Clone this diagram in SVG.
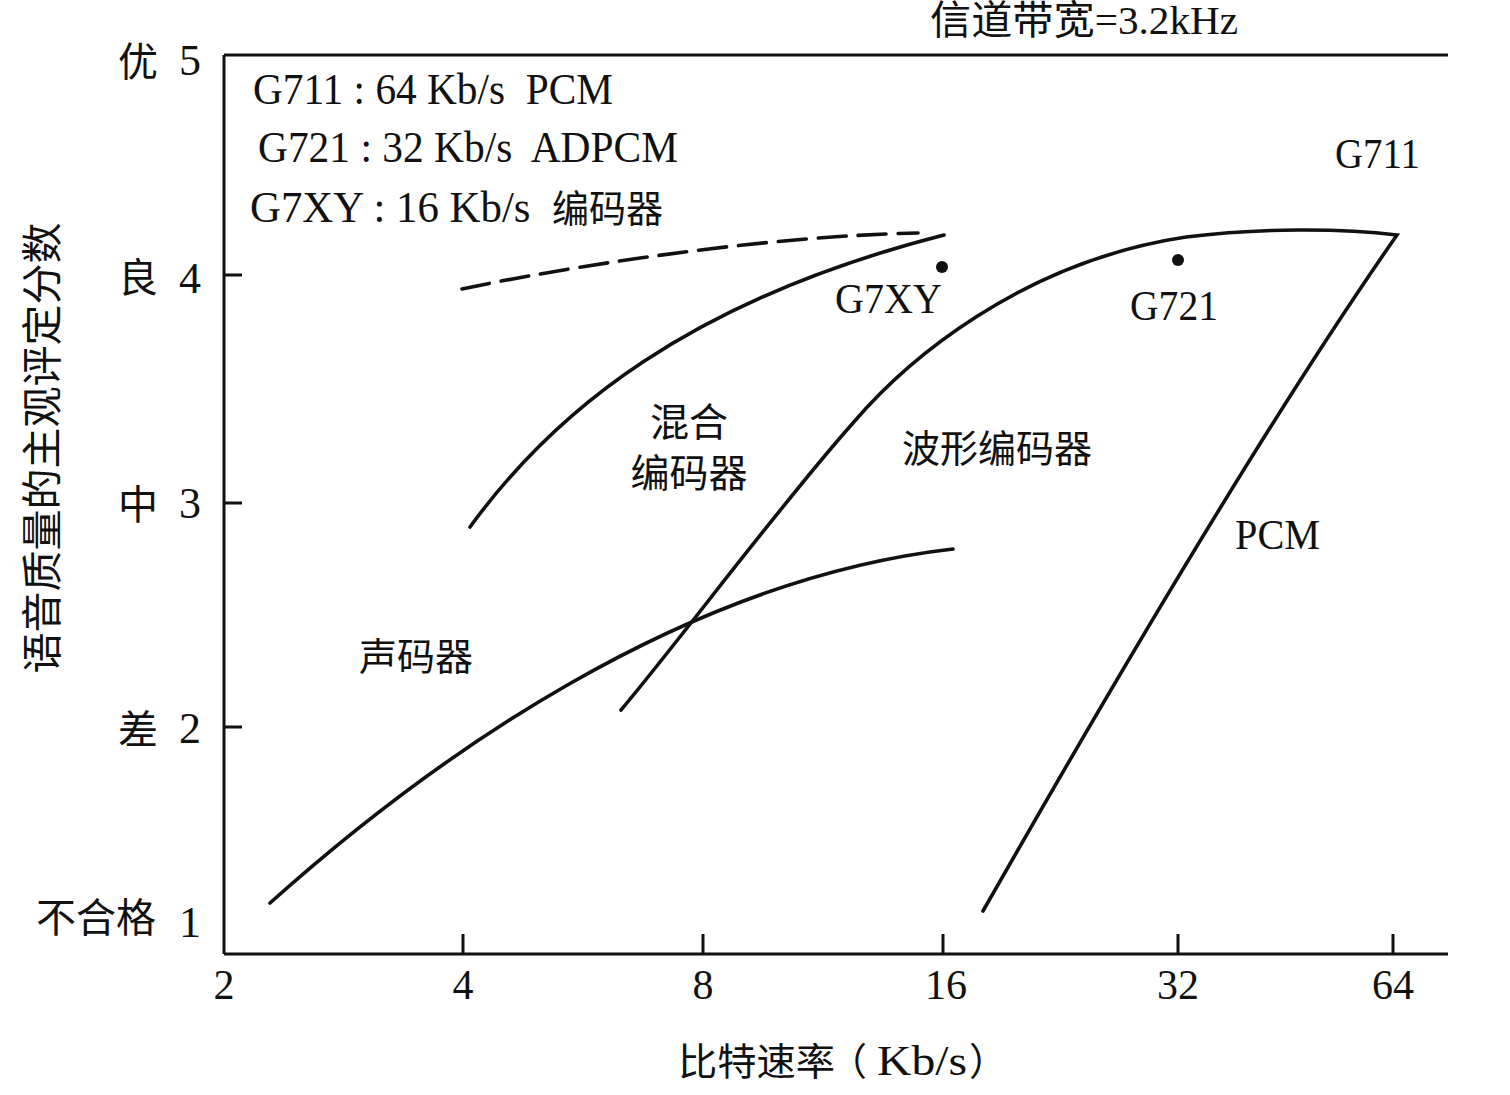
<svg xmlns="http://www.w3.org/2000/svg" width="1510" height="1095" viewBox="0 0 1510 1095">
<style>
.t{font-family:"Liberation Serif","Noto Sans CJK SC",serif;fill:#111;white-space:pre}
.c{font-family:"Noto Sans CJK SC","Liberation Serif",sans-serif;fill:#111}
.ax{stroke:#111;stroke-width:3;fill:none}
.cv{stroke:#111;stroke-width:3.6;fill:none;stroke-linecap:round}
</style>
<rect width="1510" height="1095" fill="#fff"/>
<g id="axes">
<path class="ax" d="M224,55 V954 M224,55 H1448"/>
<path class="ax" stroke-width="4" d="M224,954 H1448"/>
<path class="ax" d="M224,275 H242 M224,503 H242 M224,727 H242 M463,934 V954 M703,934 V954 M943,934 V954 M1178,934 V954 M1393,934 V954"/>
</g>
<g id="title-top"><text class="t" x="930" y="34" font-size="40" textLength="308" lengthAdjust="spacingAndGlyphs">信道带宽=3.2kHz</text></g>
<g id="y-labels" font-size="40">
<text class="c" x="138" y="76" text-anchor="middle">优</text><text class="t" x="190" y="75" font-size="44" text-anchor="middle">5</text>
<text class="c" x="138" y="292" text-anchor="middle">良</text><text class="t" x="190" y="293" font-size="44" text-anchor="middle">4</text>
<text class="c" x="138" y="519" text-anchor="middle">中</text><text class="t" x="190" y="518" font-size="44" text-anchor="middle">3</text>
<text class="c" x="138" y="744" text-anchor="middle">差</text><text class="t" x="190" y="743" font-size="44" text-anchor="middle">2</text>
<text class="c" x="96" y="932" text-anchor="middle">不合格</text><text class="t" x="190" y="937" font-size="44" text-anchor="middle">1</text>
</g>
<g id="y-title"><text class="c" transform="translate(57,448) rotate(-90)" font-size="41" text-anchor="middle">语音质量的主观评定分数</text></g>
<g id="x-labels" font-size="42" text-anchor="middle">
<text class="t" x="224" y="999">2</text><text class="t" x="463" y="999">4</text><text class="t" x="703" y="999">8</text><text class="t" x="946" y="999">16</text><text class="t" x="1178" y="999">32</text><text class="t" x="1393" y="999">64</text>
</g>
<g id="x-title" font-size="38">
<text class="c" x="678" y="1075" textLength="157" lengthAdjust="spacingAndGlyphs">比特速率</text>
<text class="c" x="829" y="1075">（</text>
<text class="t" x="877" y="1075" font-size="42" textLength="90" lengthAdjust="spacingAndGlyphs">Kb/s</text>
<text class="c" x="969" y="1075">）</text>
</g>
<g id="legend" font-size="44">
<text class="t" x="253" y="104" textLength="360" lengthAdjust="spacingAndGlyphs">G711 : 64 Kb/s  PCM</text>
<text class="t" x="258" y="162" textLength="420" lengthAdjust="spacingAndGlyphs">G721 : 32 Kb/s  ADPCM</text>
<text class="t" x="250" y="222" textLength="413" lengthAdjust="spacingAndGlyphs">G7XY : 16 Kb/s  <tspan class="c" font-size="38">编码器</tspan></text>
</g>
<g id="curves">
<path class="cv" stroke-dasharray="28 12" stroke-linecap="butt" d="M462,289 C560,268 760,236 918,233"/>
<path class="cv" d="M470,527 C555,410 690,300 944,235"/>
<path class="cv" d="M621,710 C680,640 780,505 853,423 C905,362 1020,262 1186,237 C1260,228 1340,228 1397,235 Q1240,460 983,911"/>
<path class="cv" d="M270,903 C430,760 680,580 953,549"/>
<circle cx="942" cy="267" r="6" fill="#111"/>
<circle cx="1178" cy="260" r="6" fill="#111"/>
</g>
<g id="curve-labels">
<text class="t" x="1335" y="168" font-size="42" textLength="85" lengthAdjust="spacingAndGlyphs">G711</text>
<text class="t" x="835" y="313" font-size="42" textLength="107" lengthAdjust="spacingAndGlyphs">G7XY</text>
<text class="t" x="1130" y="320" font-size="42" textLength="88" lengthAdjust="spacingAndGlyphs">G721</text>
<text class="t" x="1235" y="549" font-size="42" textLength="85" lengthAdjust="spacingAndGlyphs">PCM</text>
<text class="c" x="689" y="436" font-size="39" text-anchor="middle">混合</text>
<text class="c" x="689" y="487" font-size="39" text-anchor="middle">编码器</text>
<text class="c" x="997" y="462" font-size="38" text-anchor="middle">波形编码器</text>
<text class="c" x="416" y="670" font-size="38" text-anchor="middle">声码器</text>
</g>
</svg>
